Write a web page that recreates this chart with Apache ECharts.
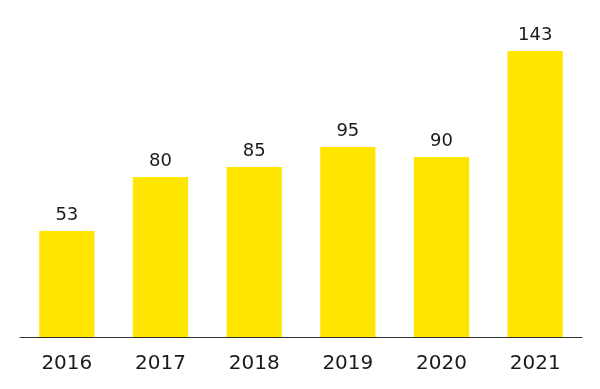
<!DOCTYPE html>
<html><head><meta charset="utf-8">
<script src="https://cdn.jsdelivr.net/npm/echarts@6/dist/echarts.min.js"></script>
<style>html,body{margin:0;padding:0;background:#fff}#c{width:600px;height:389px}</style>
</head><body><div id="c"></div>
<script>
const categories = ['2016','2017','2018','2019','2020','2021'];
const values = [53, 80, 85, 95, 90, 143];
const chart = echarts.init(document.getElementById('c'));
chart.setOption({
  animation: false,
  grid: {left: 20, right: 18, top: 17, bottom: 52, containLabel: false},
  xAxis: {
    type: 'category', data: categories,
    axisLine: {lineStyle: {color: '#333', width: 1}},
    axisTick: {show: false},
    axisLabel: {fontFamily: 'DejaVu Sans', fontSize: 20, color: '#1a1a1a', margin: 17}
  },
  yAxis: {type: 'value', min: 0, max: 160, show: false, splitLine: {show: false}},
  series: [{
    type: 'bar', data: values, barWidth: '59%',
    itemStyle: {color: '#FFE600'},
    label: {show: true, position: 'top', distance: 7, fontFamily: 'DejaVu Sans', fontSize: 18, color: '#1a1a1a'}
  }]
});
</script></body></html>
